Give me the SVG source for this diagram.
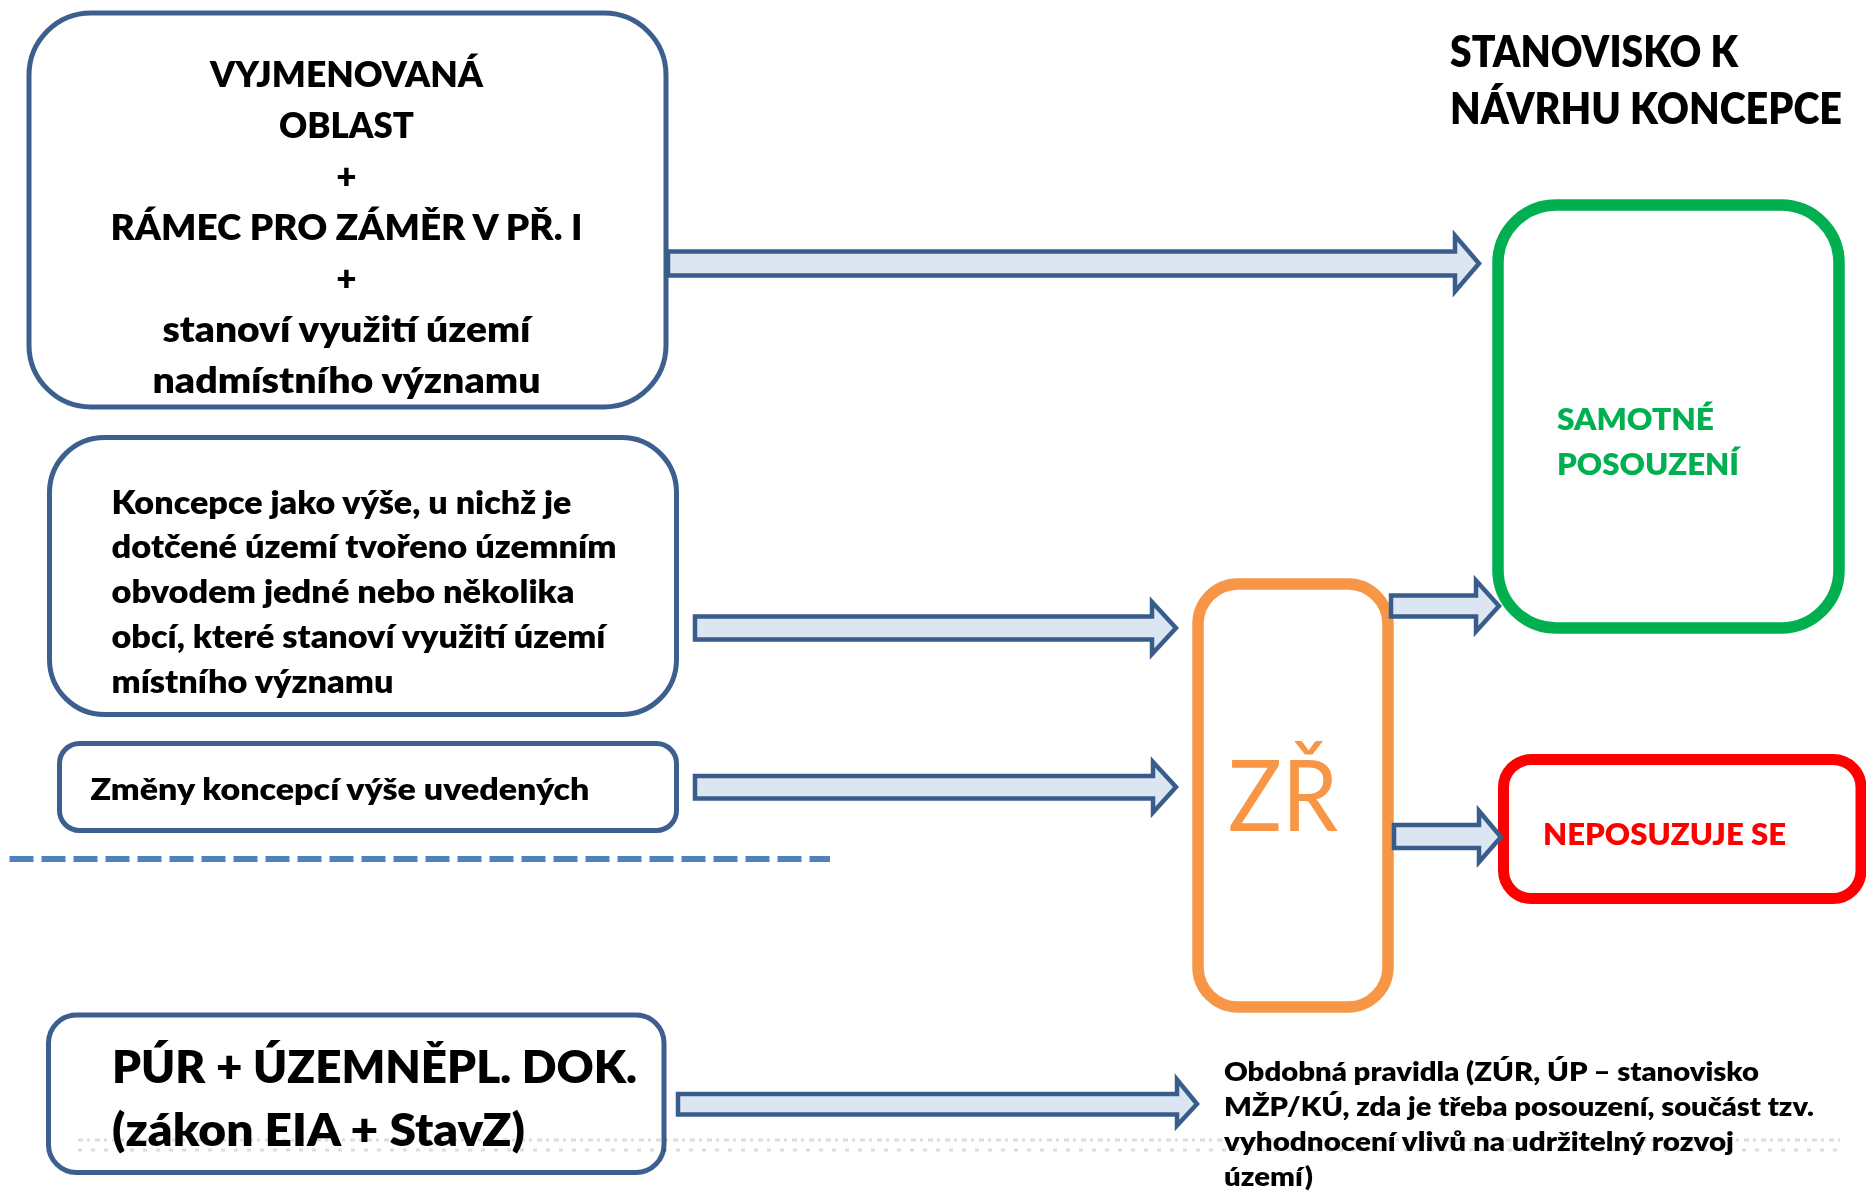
<svg xmlns="http://www.w3.org/2000/svg" width="1866" height="1199" viewBox="0 0 1866 1199">
<style>
  text { font-family: Lato, "Open Sans", "Liberation Sans", sans-serif; font-weight: 800; fill: #000; }
  .box { fill: #fff; stroke: #3D5F8E; stroke-width: 5; }
  .arrow { fill: #DCE6F2; stroke: #385D8A; stroke-width: 4.5; stroke-linejoin: miter; }
  .b1 { font-size: 35px; text-anchor: middle; }
  .b2 { font-size: 31.5px; }
  .title { font-size: 44px; }
  .small { font-size: 25.5px; }
</style>
<rect width="1866" height="1199" fill="#fff"/>

<g id="node-vyjmenovana">
  <rect class="box" x="29" y="13" width="637" height="394" rx="62" ry="62"/>
  <text class="b1" x="346.5" y="87" textLength="273" lengthAdjust="spacingAndGlyphs">VYJMENOVANÁ</text>
  <text class="b1" x="346.5" y="138" textLength="135" lengthAdjust="spacingAndGlyphs">OBLAST</text>
  <text class="b1" x="346.5" y="189">+</text>
  <text class="b1" x="346.5" y="240" textLength="472" lengthAdjust="spacingAndGlyphs">RÁMEC PRO ZÁMĚR V PŘ. I</text>
  <text class="b1" x="346.5" y="291">+</text>
  <text class="b1" x="346.5" y="342" textLength="368" lengthAdjust="spacingAndGlyphs">stanoví využití území</text>
  <text class="b1" x="346.5" y="393" textLength="388" lengthAdjust="spacingAndGlyphs">nadmístního významu</text>
</g>

<g id="node-koncepce">
  <rect class="box" x="49.5" y="437.5" width="627" height="277" rx="55" ry="55"/>
  <text class="b2" x="111.5" y="514" textLength="460" lengthAdjust="spacingAndGlyphs">Koncepce jako výše, u nichž je</text>
  <text class="b2" x="111.5" y="558" textLength="505" lengthAdjust="spacingAndGlyphs">dotčené území tvořeno územním</text>
  <text class="b2" x="111.5" y="603" textLength="463" lengthAdjust="spacingAndGlyphs">obvodem jedné nebo několika</text>
  <text class="b2" x="111.5" y="648" textLength="494" lengthAdjust="spacingAndGlyphs">obcí, které stanoví využití území</text>
  <text class="b2" x="111.5" y="693" textLength="282" lengthAdjust="spacingAndGlyphs">místního významu</text>
</g>

<g id="node-zmeny">
  <rect class="box" x="59.5" y="743.5" width="617" height="87" rx="20" ry="20"/>
  <text style="font-size:30.5px" x="90.5" y="800" textLength="499" lengthAdjust="spacingAndGlyphs">Změny koncepcí výše uvedených</text>
</g>

<g id="node-pur">
  <rect class="box" x="48.5" y="1015" width="615.5" height="157.5" rx="28" ry="28"/>
  <text style="font-size:45px" x="112" y="1083" textLength="525" lengthAdjust="spacingAndGlyphs">PÚR + ÚZEMNĚPL. DOK.</text>
  <text style="font-size:45px" x="112" y="1146" textLength="413" lengthAdjust="spacingAndGlyphs">(zákon EIA + StavZ)</text>
</g>

<g id="separator">
  <line x1="9.5" y1="859" x2="830" y2="859" stroke="#4F81BD" stroke-width="6" stroke-dasharray="24 8"/>
</g>

<g id="title">
  <text class="title" x="1450" y="67" textLength="288" lengthAdjust="spacingAndGlyphs">STANOVISKO K</text>
  <text class="title" x="1450" y="124" textLength="392" lengthAdjust="spacingAndGlyphs">NÁVRHU KONCEPCE</text>
</g>

<g id="node-samotne">
  <rect x="1498" y="205" width="341" height="423" rx="58" ry="58" fill="#fff" stroke="#00B050" stroke-width="11.5"/>
  <text style="font-size:31px;fill:#00B050" x="1557" y="430" textLength="157" lengthAdjust="spacingAndGlyphs">SAMOTNÉ</text>
  <text style="font-size:31px;fill:#00B050" x="1557" y="475" textLength="182" lengthAdjust="spacingAndGlyphs">POSOUZENÍ</text>
</g>

<g id="node-zr">
  <rect x="1198" y="584" width="190" height="423" rx="40" ry="40" fill="#fff" stroke="#F79646" stroke-width="11.5"/>
  <text style="font-size:99px;font-weight:400;fill:#F79646" x="1228" y="831" textLength="110" lengthAdjust="spacingAndGlyphs">ZŘ</text>
</g>

<g id="node-neposuzuje">
  <rect x="1503.5" y="759.5" width="357.5" height="139" rx="28" ry="28" fill="#fff" stroke="#FF0000" stroke-width="11"/>
  <text style="font-size:31px;fill:#FF0000" x="1543" y="845" textLength="243" lengthAdjust="spacingAndGlyphs">NEPOSUZUJE SE</text>
</g>

<g id="node-obdobna">
  <text class="small" x="1224" y="1081" textLength="535" lengthAdjust="spacingAndGlyphs">Obdobná pravidla (ZÚR, ÚP – stanovisko</text>
  <text class="small" x="1224" y="1116" textLength="590" lengthAdjust="spacingAndGlyphs">MŽP/KÚ, zda je třeba posouzení, součást tzv.</text>
  <text class="small" x="1224" y="1151" textLength="510" lengthAdjust="spacingAndGlyphs">vyhodnocení vlivů na udržitelný rozvoj</text>
  <text class="small" x="1224" y="1186" textLength="89" lengthAdjust="spacingAndGlyphs">území)</text>
</g>

<g id="connectors">
  <path class="arrow" d="M668,251.5 H1455 V235.5 L1479,263.5 L1455,291.5 V275.5 H668 Z"/>
  <path class="arrow" d="M695,616.5 H1152 V602 L1176,628 L1152,654 V639.5 H695 Z"/>
  <path class="arrow" d="M695,776 H1153 V762 L1176,787 L1153,812.5 V798.5 H695 Z"/>
  <path class="arrow" d="M1391,595.5 H1476 V580.5 L1499,606 L1476,631.5 V616.5 H1391 Z"/>
  <path class="arrow" d="M1394,825 H1479 V811 L1501,837 L1479,862 V848 H1394 Z"/>
  <path class="arrow" d="M678,1094 H1177 V1079.5 L1197,1104 L1177,1125.5 V1114.5 H678 Z"/>
</g>

<g id="faint-band" style="mix-blend-mode:multiply" opacity="0.6">
  <line x1="78" y1="1140" x2="1840" y2="1140" stroke="#c4c4c4" stroke-width="3" stroke-dasharray="5 4 3 5"/>
  <line x1="78" y1="1150" x2="1840" y2="1150" stroke="#c4c4c4" stroke-width="3" stroke-dasharray="4 9"/>
</g>
</svg>
